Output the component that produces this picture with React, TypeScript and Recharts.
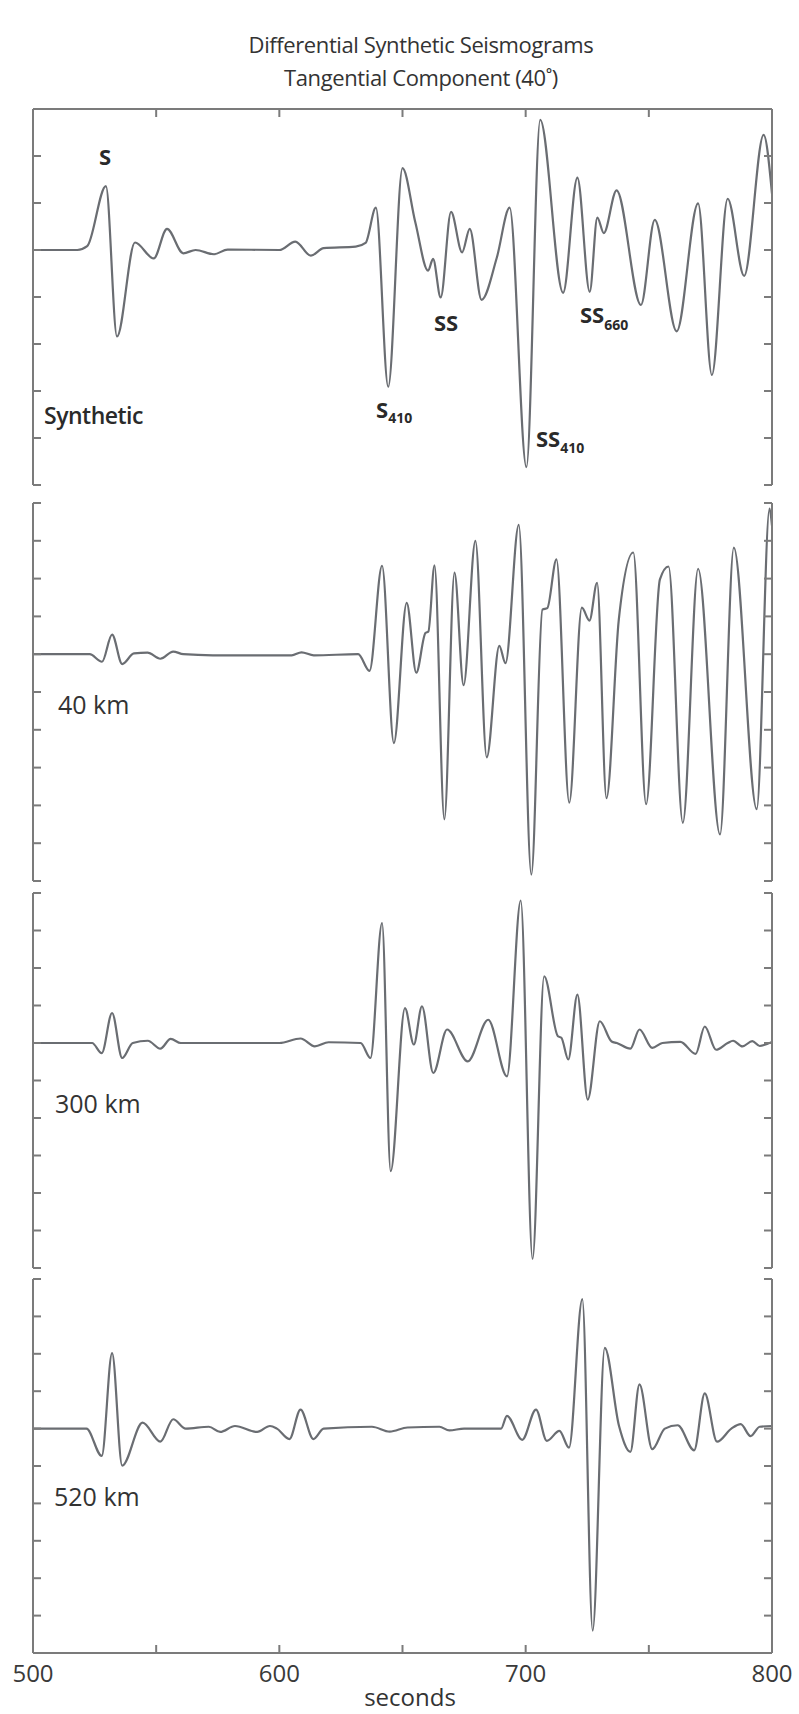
import React from 'react';
import { LineChart, Line, XAxis, YAxis } from 'recharts';

// ---- Data (seconds vs. relative amplitude) ----
const synTime = [500, 518, 522, 529.6, 534.1, 541.4, 549, 554.4, 561, 566, 573.5, 579, 600, 606.5, 612.8, 618, 631, 635, 639.2, 644.2, 650, 655.2, 660.4, 662.4, 665.5, 669.7, 674.2, 677.3, 682.1, 688.3, 693.5, 700.3, 705.9, 715.2, 721, 726, 729.1, 731.7, 736.9, 746.8, 752.4, 761.3, 770, 775.6, 782, 788.7, 796.6, 800];
const synAmp = [0, 0, 0.08, 1.36, -1.84, 0.16, -0.18, 0.45, -0.07, 0, -0.09, 0.01, 0, 0.18, -0.12, 0.04, 0.07, 0.15, 0.9, -2.91, 1.74, 0.59, -0.44, -0.19, -1.01, 0.81, -0.05, 0.45, -1.06, -0.16, 0.9, -4.62, 2.77, -0.91, 1.54, -0.89, 0.69, 0.36, 1.27, -1.17, 0.64, -1.73, 0.99, -2.66, 1.09, -0.55, 2.45, 1.2];

const km40Time = [500, 523, 528, 532.1, 536.2, 541, 546.5, 551.7, 556.9, 561, 573, 605, 609, 614, 632, 636.6, 641.7, 646.5, 651.7, 655.6, 659.3, 660.5, 663, 667, 671.1, 674.8, 679.6, 684.2, 689.3, 691.8, 697.2, 702.3, 706.8, 708.8, 712.5, 717.7, 722.8, 725.9, 729, 732.8, 737.8, 743.7, 748.9, 754.5, 758, 763.8, 770, 778.9, 784.5, 793.8, 799, 800];
const km40Amp = [0, 0, -0.2, 0.52, -0.26, 0.02, 0.04, -0.12, 0.07, 0, -0.03, -0.03, 0.05, -0.03, 0, -0.44, 2.34, -2.35, 1.36, -0.49, 0.56, 0.6, 2.35, -4.37, 2.16, -0.82, 3.0, -2.73, 0.22, -0.24, 3.42, -5.83, 1.18, 1.22, 2.51, -3.93, 1.23, 0.89, 1.89, -3.81, 0.91, 2.69, -3.97, 1.98, 2.32, -4.46, 2.26, -4.77, 2.82, -4.1, 3.85, 3.4];

const km300Time = [500, 524, 527.9, 532.1, 536.2, 540.5, 546.6, 551.7, 555.9, 560, 600, 608.6, 614.4, 620, 633, 637, 641.7, 645.2, 651, 654.6, 657.9, 662.5, 668.1, 676.5, 684.8, 692.4, 698, 702.8, 707.5, 713.1, 714.5, 717.3, 721, 725.2, 730.1, 734.9, 737, 742.5, 746.2, 751.4, 755.5, 762.8, 769, 772.7, 777.3, 782, 784.2, 788, 792, 795, 800];
const km300Amp = [0, 0, -0.27, 0.8, -0.4, 0, 0.06, -0.15, 0.11, 0, 0, 0.12, -0.09, 0.02, 0, -0.4, 3.2, -3.42, 0.93, -0.04, 0.98, -0.8, 0.36, -0.49, 0.62, -0.89, 3.8, -5.76, 1.78, 0.18, 0.14, -0.44, 1.29, -1.51, 0.58, 0.04, 0.0, -0.15, 0.36, -0.13, 0.0, 0.03, -0.29, 0.44, -0.18, 0.0, 0.06, -0.09, 0.05, -0.08, 0.03];

const km520Time = [500, 521.7, 527.9, 532.1, 536.2, 544.5, 551.7, 556.9, 562, 571.4, 576, 582, 591, 596.2, 599, 604.1, 608.6, 613.8, 618, 637.6, 644.8, 652, 665, 669, 675, 690, 692.4, 698.6, 704.2, 708.6, 713.7, 717.6, 723, 727.2, 732.1, 737.9, 742.5, 746.2, 751.4, 756.5, 761.7, 768.4, 772.7, 777.7, 783.5, 787.3, 791.3, 795, 800];
const km520Amp = [0, 0, -0.73, 2.02, -0.99, 0.16, -0.35, 0.25, 0, 0.05, -0.09, 0.07, -0.09, 0.07, 0, -0.28, 0.51, -0.28, 0, 0.05, -0.08, 0.03, 0.05, -0.05, 0, 0, 0.34, -0.3, 0.51, -0.33, -0.06, -0.51, 3.46, -5.4, 2.16, 0.07, -0.62, 1.18, -0.55, 0, 0.09, -0.58, 0.94, -0.35, 0, 0.12, -0.2, 0.05, 0.07];

const timeTicks = [500, 550, 600, 650, 700, 750, 800];
const synYTicks = [-5, -4, -3, -2, -1, 0, 1, 2, 3];
const kmYTicks = [-6, -5, -4, -3, -2, -1, 0, 1, 2, 3, 4];

const rows = (t: number[], v: number[]) => t.map((x, i) => ({ t: x, v: v[i] }));

const LEFT = 33;
const RIGHT = 772;
const M = 30;
const MB = 60;
const AXIS = '#7b7b7b';
const TRACE = '#6a6d72';
const FONT = '"Open Sans", "Noto Sans", sans-serif';

type PanelProps = {
  top: number;
  bottom: number;
  data: { t: number; v: number }[];
  yTicks: number[];
  kind: 'first' | 'mid' | 'last';
};

const NoLabel = () => <g />;

const BottomTick = (props: any) => {
  const { x, y, payload } = props;
  if (payload.value % 100 !== 0) return <g />;
  return (
    <text x={x} y={y + 8 + 29} textAnchor="middle" fontSize={24} fontFamily={FONT} fill="#3a3a3a">
      {payload.value}
    </text>
  );
};

function Panel({ top, bottom, data, yTicks, kind }: PanelProps) {
  const w = RIGHT - LEFT + 2 * M;
  const h = bottom - top + M + (kind === 'last' ? MB : M);
  const dom: [number, number] = [yTicks[0], yTicks[yTicks.length - 1]];
  return (
    <div style={{ position: 'absolute', left: LEFT - M, top: top - M, width: w, height: h }}>
      <LineChart width={w} height={h} data={data} margin={{ top: M, right: M, left: M, bottom: kind === 'last' ? MB : M }}>
        {kind === 'first' && (
          <XAxis xAxisId="x" dataKey="t" type="number" domain={[500, 800]} allowDataOverflow orientation="top" mirror
            ticks={timeTicks} tick={NoLabel} tickSize={8} stroke={AXIS} strokeWidth={2} interval={0} />
        )}
        {kind === 'mid' && (
          <XAxis xAxisId="x" dataKey="t" type="number" domain={[500, 800]} allowDataOverflow hide />
        )}
        {kind === 'last' && (
          <XAxis xAxisId="x" dataKey="t" type="number" domain={[500, 800]} allowDataOverflow orientation="bottom" mirror
            ticks={timeTicks} tick={BottomTick} tickSize={8} tickMargin={0} stroke={AXIS} strokeWidth={2} interval={0} />
        )}
        <YAxis yAxisId="L" type="number" domain={dom} allowDataOverflow orientation="left" mirror ticks={yTicks}
          tick={NoLabel} tickSize={8} stroke={AXIS} strokeWidth={2} interval={0} />
        <YAxis yAxisId="R" type="number" domain={dom} allowDataOverflow orientation="right" mirror ticks={yTicks}
          tick={NoLabel} tickSize={8} stroke={AXIS} strokeWidth={2} interval={0} />
        <Line xAxisId="x" yAxisId="L" dataKey="v" type="monotone" stroke={TRACE} strokeWidth={2.2}
          dot={false} isAnimationActive={false} />
      </LineChart>
    </div>
  );
}

export default function App() {
  const txt = { fontFamily: FONT, fill: '#333333' } as const;
  const ann = { fontFamily: FONT, fill: '#2a2a2a', fontWeight: 700 } as const;
  return (
    <div style={{ position: 'absolute', left: 0, top: 0, width: 799, height: 1714, background: '#ffffff' }}>
      <Panel top={109} bottom={485} data={rows(synTime, synAmp)} yTicks={synYTicks} kind="first" />
      <Panel top={503} bottom={881} data={rows(km40Time, km40Amp)} yTicks={kmYTicks} kind="mid" />
      <Panel top={893} bottom={1268} data={rows(km300Time, km300Amp)} yTicks={kmYTicks} kind="mid" />
      <Panel top={1279} bottom={1653} data={rows(km520Time, km520Amp)} yTicks={kmYTicks} kind="last" />
      <svg width={799} height={1714} style={{ position: 'absolute', left: 0, top: 0, pointerEvents: 'none' }}>
        <text x={421} y={53} textAnchor="middle" fontSize={22} letterSpacing={-0.4} {...txt}>Differential Synthetic Seismograms</text>
        <text x={421} y={86} textAnchor="middle" fontSize={22} letterSpacing={-0.4} {...txt}>Tangential Component (40˚)</text>

        <text x={99} y={165} fontSize={22} {...ann}>S</text>
        <text x={376} y={418} fontSize={22} {...ann}>S<tspan fontSize={14} dy={5}>410</tspan></text>
        <text x={434} y={331} fontSize={22} {...ann}>SS</text>
        <text x={536} y={447} fontSize={22} {...ann}>SS<tspan fontSize={14} dy={6}>410</tspan></text>
        <text x={580} y={323} fontSize={22} {...ann}>SS<tspan fontSize={14} dy={7}>660</tspan></text>
        <text x={44} y={424} fontSize={23} {...ann} fontWeight={600} letterSpacing={-0.5}>Synthetic</text>

        <text x={58} y={714} fontSize={25} {...txt}>40 km</text>
        <text x={55} y={1113} fontSize={25} {...txt}>300 km</text>
        <text x={54} y={1506} fontSize={25} {...txt}>520 km</text>
        <text x={410} y={1706} textAnchor="middle" fontSize={24} {...txt}>seconds</text>
      </svg>
    </div>
  );
}
